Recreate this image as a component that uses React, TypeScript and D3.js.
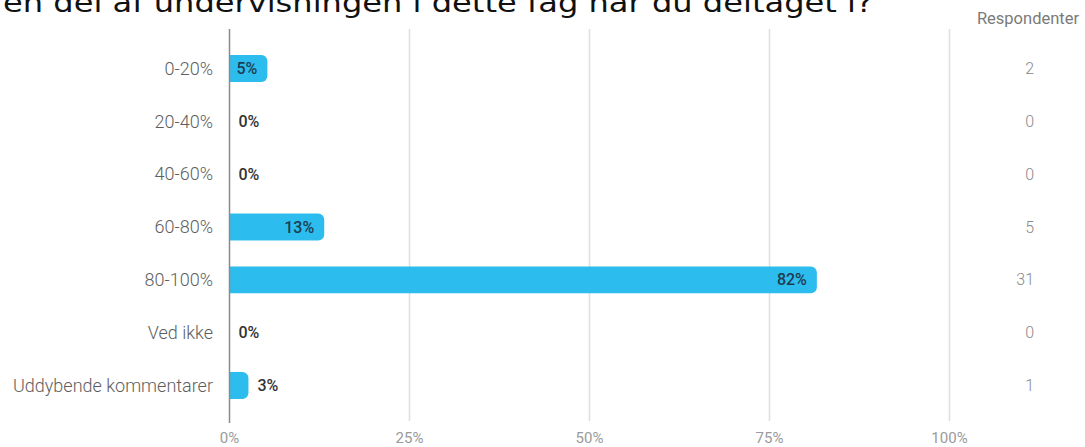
import React from "react";
import * as d3 from "d3";

const categories = ["0-20%", "20-40%", "40-60%", "60-80%", "80-100%", "Ved ikke", "Uddybende kommentarer"];
const respondents = [2, 0, 0, 5, 31, 0, 1];
const totalRespondents = 38;
const tickValues = [0, 0.25, 0.5, 0.75, 1];
const titleText = "en del af undervisningen i dette fag har du deltaget i?";
const countHeader = "Respondenter";

const W = 1085;
const H = 447;

function barPath(x0: number, y: number, w: number, h: number, r: number) {
  const rr = Math.min(r, w / 2, h / 2);
  return `M${x0},${y}H${x0 + w - rr}A${rr},${rr} 0 0 1 ${x0 + w},${y + rr}V${y + h - rr}A${rr},${rr} 0 0 1 ${x0 + w - rr},${y + h}H${x0}Z`;
}

export default function App() {
  const x = d3.scaleLinear().domain([0, 1]).range([229.5, 949.5]);
  const y = d3.scaleBand<string>().domain(categories).range([42, 412]).paddingInner(0.49).paddingOuter(0.245);
  const fmt = d3.format(".0%");
  const font = "Roboto, 'Noto Sans', sans-serif";
  const bh = y.bandwidth();

  return (
    <svg width={W} height={H} style={{ position: "absolute", left: 0, top: 0, background: "#fff" }}>
      <text x={3} y={12} fontFamily="'DejaVu Sans', sans-serif" fontSize={26} fill="#111" textLength={870} lengthAdjust="spacingAndGlyphs">
        {titleText}
      </text>
      {tickValues.map((t) => (
        <g key={t}>
          {t > 0 && <line x1={x(t)} x2={x(t)} y1={29} y2={421} stroke="#dedede" strokeWidth={1.5} />}
          <text x={x(t)} y={443} textAnchor="middle" fontFamily={font} fontSize={15} fill="#9a9a9a">
            {fmt(t)}
          </text>
        </g>
      ))}
      {categories.map((c, i) => {
        const v = respondents[i] / totalRespondents;
        const yy = y(c)!;
        const cy = yy + bh / 2;
        const w = x(v) - x(0);
        const inside = w >= 30;
        return (
          <g key={c}>
            <text x={213} y={cy} dy="0.35em" textAnchor="end" fontFamily={font} fontSize={18} fontWeight={300} fill="#5e5e5e">
              {c}
            </text>
            {w > 0 && <path d={barPath(x(0), yy, w, bh, 6)} fill="#2cbdee" />}
            <text
              x={inside ? x(v) - 10 : x(v) + 9}
              y={cy}
              dy="0.35em"
              textAnchor={inside ? "end" : "start"}
              fontFamily={font}
              fontSize={16}
              fontWeight={500}
              fill={inside ? "#1d3c50" : "#333"}
            >
              {fmt(v)}
            </text>
            <text x={1034} y={cy} dy="0.35em" textAnchor="end" fontFamily={font} fontSize={16} fontWeight={300} fill="#8a8a8a">
              {respondents[i]}
            </text>
          </g>
        );
      })}
      <line x1={x(0)} x2={x(0)} y1={29} y2={423} stroke="#8a8a8a" strokeWidth={1.5} />
      <text x={1028} y={24} textAnchor="middle" fontFamily={font} fontSize={16.5} fill="#7a7a7a">
        {countHeader}
      </text>
    </svg>
  );
}
